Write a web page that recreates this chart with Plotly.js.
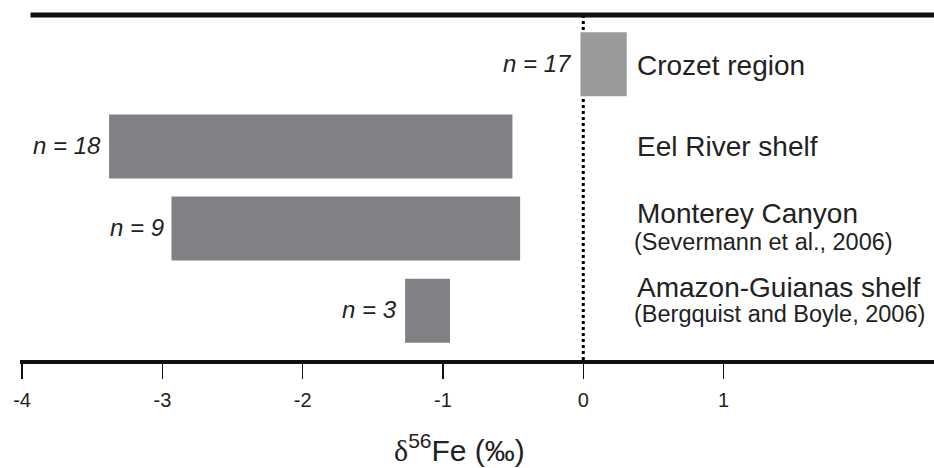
<!DOCTYPE html>
<html><head><meta charset="utf-8">
<script src="https://cdn.plot.ly/plotly-3.0.1.min.js"></script>
<style>body{margin:0;background:#fff}#c{width:934px;height:468px}</style>
</head><body><div id="c"></div>
<script>
const sites = ["Crozet region", "Eel River shelf", "Monterey Canyon", "Amazon-Guianas shelf"];
const refs = ["", "", "(Severmann et al., 2006)", "(Bergquist and Boyle, 2006)"];
const lowVals = [-0.02, -3.38, -2.935, -1.27];
const highVals = [0.31, -0.505, -0.45, -0.95];
const nLabels = ["n = 17", "n = 18", "n = 9", "n = 3"];
const barColors = ["#999a9b", "#808184", "#808184", "#808184"];
const tickValues = [-4, -3, -2, -1, 0, 1];
const tickLabels = ["-4", "-3", "-2", "-1", "0", "1"];

// label vertical offsets (px) per row: [site name, reference line]
const nameShift = [-1, 0, 15, 23];
const refShift = [0, 0, -13, -3];

const font = "Liberation Sans";
const trace = {
  type: "bar", orientation: "h",
  y: sites,
  x: highVals.map((h, i) => h - lowVals[i]),
  base: lowVals,
  width: 0.78,
  marker: {color: barColors, line: {width: 0}},
  hoverinfo: "skip", showlegend: false
};

const annotations = [];
sites.forEach((s, i) => {
  annotations.push({x: lowVals[i], y: s, xref: "x", yref: "y", text: "<i>" + nLabels[i] + "</i>",
    xanchor: "right", yanchor: "middle", xshift: -6, yshift: 1, showarrow: false,
    font: {family: font, size: 24, color: "#222"}});
  annotations.push({x: 0.37, y: s, xref: "x", yref: "y", text: s,
    xanchor: "left", yanchor: "middle", yshift: nameShift[i], showarrow: false,
    font: {family: font, size: 28, color: "#222"}});
  if (refs[i] !== "") annotations.push({x: 0.345, y: s, xref: "x", yref: "y", text: refs[i],
    xanchor: "left", yanchor: "middle", yshift: refShift[i], showarrow: false,
    font: {family: font, size: 23.5, color: "#222"}});
});
annotations.push({x: -0.88, y: 0, xref: "x", yref: "paper", yshift: -88,
  text: "<span style='font-family:Liberation Serif'>δ</span><sup>56</sup>Fe (‰)",
  showarrow: false, xanchor: "center", yanchor: "middle", font: {family: font, size: 30, color: "#222"}});

const layout = {
  width: 934, height: 468,
  margin: {l: 20, r: 0, t: 15, b: 108},
  paper_bgcolor: "#fff", plot_bgcolor: "#fff",
  xaxis: {range: [-4.015, 2.5], tickvals: tickValues, ticktext: tickLabels,
    showgrid: false, zeroline: false, showline: true, linewidth: 4, linecolor: "#111",
    ticks: "outside", ticklen: 15, tickwidth: 1.5, tickcolor: "#111", ticklabelstandoff: 4,
    tickfont: {family: font, size: 20, color: "#222"}, fixedrange: true},
  yaxis: {type: "category", categoryorder: "array", categoryarray: sites,
    range: [3.6, -0.6], showgrid: false, zeroline: false, showline: false,
    showticklabels: false, ticks: "", fixedrange: true},
  shapes: [
    {type: "line", xref: "x", yref: "paper", x0: -3.94, x1: 2.5, y0: 1, y1: 1,
      line: {color: "#111", width: 5}},
    {type: "line", xref: "x", yref: "paper", x0: 0, x1: 0, y0: 0, y1: 1,
      line: {color: "#000", width: 3, dash: "dot"}, layer: "below"}
  ],
  annotations: annotations
};
Plotly.newPlot("c", [trace], layout, {displayModeBar: false, staticPlot: true});
</script></body></html>
